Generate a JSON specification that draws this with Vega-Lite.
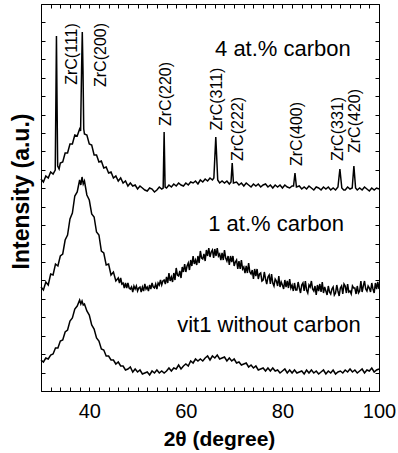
{
  "$schema": "https://vega.github.io/schema/vega-lite/v6.json",
  "autosize": {"type": "none"},
  "width": 338,
  "height": 387,
  "padding": {"left": 41, "top": 4, "right": 19, "bottom": 62},
  "background": "white",
  "config": {
    "view": {"stroke": "black", "strokeWidth": 1},
    "font": "Liberation Sans",
    "axis": {"tickColor": "black", "tickWidth": 1, "labelColor": "black", "titleColor": "black", "grid": false, "domain": false, "labelFont": "Liberation Sans", "titleFont": "Liberation Sans", "labelFlush": false, "labelOverlap": false}
  },
  "datasets": {
    "curves": [
      {"s":"a","x":30,"y":31},{"s":"a","x":30.5,"y":29},{"s":"a","x":31,"y":33},{"s":"a","x":31.5,"y":32},{"s":"a","x":32,"y":36},{"s":"a","x":32.5,"y":37},{"s":"a","x":33,"y":43},{"s":"a","x":33.5,"y":43},{"s":"a","x":34,"y":50},{"s":"a","x":34.5,"y":51},{"s":"a","x":35,"y":59},{"s":"a","x":35.5,"y":61},{"s":"a","x":36,"y":70},{"s":"a","x":36.5,"y":73},{"s":"a","x":37,"y":82},{"s":"a","x":37.5,"y":85},{"s":"a","x":38,"y":91},{"s":"a","x":38.25,"y":87},{"s":"a","x":38.5,"y":90},{"s":"a","x":38.75,"y":86},{"s":"a","x":39,"y":87},{"s":"a","x":39.5,"y":80},{"s":"a","x":40,"y":76},{"s":"a","x":40.5,"y":66},{"s":"a","x":41,"y":62},{"s":"a","x":41.5,"y":53},{"s":"a","x":42,"y":50},{"s":"a","x":42.5,"y":42},{"s":"a","x":43,"y":41},{"s":"a","x":43.5,"y":35},{"s":"a","x":44,"y":35},{"s":"a","x":44.5,"y":31},{"s":"a","x":45,"y":31},{"s":"a","x":45.5,"y":27},
      {"s":"a","x":46,"y":29},{"s":"a","x":46.5,"y":25},{"s":"a","x":47,"y":25},{"s":"a","x":47.5,"y":21},{"s":"a","x":48,"y":22},{"s":"a","x":48.5,"y":24},{"s":"a","x":49,"y":19},{"s":"a","x":49.5,"y":22},{"s":"a","x":50,"y":19},{"s":"a","x":50.5,"y":21},{"s":"a","x":51,"y":17},{"s":"a","x":51.5,"y":18},{"s":"a","x":52,"y":19},{"s":"a","x":52.5,"y":16},{"s":"a","x":53,"y":20},{"s":"a","x":53.5,"y":18},
      {"s":"a","x":54,"y":21},{"s":"a","x":54.5,"y":18},{"s":"a","x":55,"y":20},{"s":"a","x":55.5,"y":18},{"s":"a","x":56,"y":20},{"s":"a","x":56.5,"y":23},{"s":"a","x":57,"y":20},{"s":"a","x":57.5,"y":23},{"s":"a","x":58,"y":22},{"s":"a","x":58.5,"y":26},{"s":"a","x":59,"y":22},{"s":"a","x":59.5,"y":25},{"s":"a","x":60,"y":27},{"s":"a","x":60.5,"y":25},{"s":"a","x":61,"y":30},{"s":"a","x":61.5,"y":28},
      {"s":"a","x":62,"y":32},{"s":"a","x":62.5,"y":30},{"s":"a","x":63,"y":32},{"s":"a","x":63.5,"y":30},{"s":"a","x":64,"y":33},{"s":"a","x":64.5,"y":35},{"s":"a","x":65,"y":31},{"s":"a","x":65.5,"y":35},{"s":"a","x":66,"y":33},{"s":"a","x":66.5,"y":36},{"s":"a","x":67,"y":32},{"s":"a","x":67.5,"y":33},{"s":"a","x":68,"y":34},{"s":"a","x":68.5,"y":30},{"s":"a","x":69,"y":33},{"s":"a","x":69.5,"y":30},
      {"s":"a","x":70,"y":32},{"s":"a","x":70.5,"y":28},{"s":"a","x":71,"y":29},{"s":"a","x":71.5,"y":26},{"s":"a","x":72,"y":27},{"s":"a","x":72.5,"y":28},{"s":"a","x":73,"y":24},{"s":"a","x":73.5,"y":26},{"s":"a","x":74,"y":23},{"s":"a","x":74.5,"y":25},{"s":"a","x":75,"y":21},{"s":"a","x":75.5,"y":22},{"s":"a","x":76,"y":23},{"s":"a","x":76.5,"y":20},{"s":"a","x":77,"y":23},{"s":"a","x":77.5,"y":20},
      {"s":"a","x":78,"y":23},{"s":"a","x":78.5,"y":20},{"s":"a","x":79,"y":21},{"s":"a","x":79.5,"y":18},{"s":"a","x":80,"y":20},{"s":"a","x":80.5,"y":22},{"s":"a","x":81,"y":18},{"s":"a","x":81.5,"y":21},{"s":"a","x":82,"y":18},{"s":"a","x":82.5,"y":21},{"s":"a","x":83,"y":18},{"s":"a","x":83.5,"y":19},{"s":"a","x":84,"y":20},{"s":"a","x":84.5,"y":17},{"s":"a","x":85,"y":21},{"s":"a","x":85.5,"y":18},
      {"s":"a","x":86,"y":21},{"s":"a","x":86.5,"y":18},{"s":"a","x":87,"y":20},{"s":"a","x":87.5,"y":17},{"s":"a","x":88,"y":19},{"s":"a","x":88.5,"y":21},{"s":"a","x":89,"y":17},{"s":"a","x":89.5,"y":20},{"s":"a","x":90,"y":18},{"s":"a","x":90.5,"y":21},{"s":"a","x":91,"y":17},{"s":"a","x":91.5,"y":19},{"s":"a","x":92,"y":20},{"s":"a","x":92.5,"y":18},{"s":"a","x":93,"y":21},{"s":"a","x":93.5,"y":19},
      {"s":"a","x":94,"y":22},{"s":"a","x":94.5,"y":19},{"s":"a","x":95,"y":21},{"s":"a","x":95.5,"y":18},{"s":"a","x":96,"y":20},{"s":"a","x":96.5,"y":22},{"s":"a","x":97,"y":18},{"s":"a","x":97.5,"y":21},{"s":"a","x":98,"y":20},{"s":"a","x":98.5,"y":23},{"s":"a","x":99,"y":19},{"s":"a","x":99.5,"y":21},{"s":"a","x":100,"y":22},
      {"s":"b","x":30,"y":104},{"s":"b","x":30.5,"y":101},{"s":"b","x":31,"y":109},{"s":"b","x":31.5,"y":106},{"s":"b","x":32,"y":117},{"s":"b","x":32.5,"y":116},{"s":"b","x":33,"y":127},{"s":"b","x":33.5,"y":125},{"s":"b","x":34,"y":135},{"s":"b","x":34.5,"y":137},{"s":"b","x":35,"y":151},{"s":"b","x":35.5,"y":156},{"s":"b","x":36,"y":172},{"s":"b","x":36.5,"y":178},{"s":"b","x":37,"y":195},{"s":"b","x":37.5,"y":199},{"s":"b","x":38,"y":211},{"s":"b","x":38.25,"y":206},{"s":"b","x":38.5,"y":214},{"s":"b","x":38.75,"y":207},{"s":"b","x":39,"y":210},{"s":"b","x":39.5,"y":196},{"s":"b","x":40,"y":191},{"s":"b","x":40.5,"y":177},{"s":"b","x":41,"y":174},{"s":"b","x":41.5,"y":159},{"s":"b","x":42,"y":156},{"s":"b","x":42.5,"y":140},{"s":"b","x":43,"y":138},{"s":"b","x":43.5,"y":126},{"s":"b","x":44,"y":127},{"s":"b","x":44.5,"y":116},{"s":"b","x":45,"y":119},{"s":"b","x":45.5,"y":110},
      {"s":"b","x":46,"y":113},{"s":"b","x":46.25,"y":108},{"s":"b","x":46.5,"y":113},{"s":"b","x":46.75,"y":107},
      {"s":"b","x":47,"y":108},{"s":"b","x":47.25,"y":103},{"s":"b","x":47.5,"y":108},{"s":"b","x":47.75,"y":103},
      {"s":"b","x":48,"y":108},{"s":"b","x":48.25,"y":103},{"s":"b","x":48.5,"y":102},{"s":"b","x":48.75,"y":104},
      {"s":"b","x":49,"y":99},{"s":"b","x":49.25,"y":105},{"s":"b","x":49.5,"y":102},{"s":"b","x":49.75,"y":105},
      {"s":"b","x":50,"y":100},{"s":"b","x":50.25,"y":103},{"s":"b","x":50.5,"y":104},{"s":"b","x":50.75,"y":99},
      {"s":"b","x":51,"y":104},{"s":"b","x":51.25,"y":100},{"s":"b","x":51.5,"y":107},{"s":"b","x":51.75,"y":102},
      {"s":"b","x":52,"y":104},{"s":"b","x":52.25,"y":100},{"s":"b","x":52.5,"y":106},{"s":"b","x":52.75,"y":102},
      {"s":"b","x":53,"y":108},{"s":"b","x":53.25,"y":104},{"s":"b","x":53.5,"y":103},{"s":"b","x":53.75,"y":107},
      {"s":"b","x":54,"y":102},{"s":"b","x":54.25,"y":108},{"s":"b","x":54.5,"y":106},{"s":"b","x":54.75,"y":111},
      {"s":"b","x":55,"y":106},{"s":"b","x":55.25,"y":110},{"s":"b","x":55.5,"y":111},{"s":"b","x":55.75,"y":107},
      {"s":"b","x":56,"y":114},{"s":"b","x":56.25,"y":108},{"s":"b","x":56.5,"y":118},{"s":"b","x":56.75,"y":110},
      {"s":"b","x":57,"y":114},{"s":"b","x":57.25,"y":109},{"s":"b","x":57.5,"y":118},{"s":"b","x":57.75,"y":111},
      {"s":"b","x":58,"y":123},{"s":"b","x":58.25,"y":116},{"s":"b","x":58.5,"y":115},{"s":"b","x":58.75,"y":120},
      {"s":"b","x":59,"y":113},{"s":"b","x":59.25,"y":124},{"s":"b","x":59.5,"y":119},{"s":"b","x":59.75,"y":127},
      {"s":"b","x":60,"y":119},{"s":"b","x":60.25,"y":125},{"s":"b","x":60.5,"y":128},{"s":"b","x":60.75,"y":121},
      {"s":"b","x":61,"y":131},{"s":"b","x":61.25,"y":125},{"s":"b","x":61.5,"y":135},{"s":"b","x":61.75,"y":127},
      {"s":"b","x":62,"y":131},{"s":"b","x":62.25,"y":126},{"s":"b","x":62.5,"y":135},{"s":"b","x":62.75,"y":128},
      {"s":"b","x":63,"y":140},{"s":"b","x":63.25,"y":133},{"s":"b","x":63.5,"y":132},{"s":"b","x":63.75,"y":137},
      {"s":"b","x":64,"y":130},{"s":"b","x":64.25,"y":141},{"s":"b","x":64.5,"y":135},{"s":"b","x":64.75,"y":143},
      {"s":"b","x":65,"y":134},{"s":"b","x":65.25,"y":139},{"s":"b","x":65.5,"y":141},{"s":"b","x":65.75,"y":133},
      {"s":"b","x":66,"y":142},{"s":"b","x":66.25,"y":135},{"s":"b","x":66.5,"y":143},{"s":"b","x":66.75,"y":135},
      {"s":"b","x":67,"y":137},{"s":"b","x":67.25,"y":131},{"s":"b","x":67.5,"y":138},{"s":"b","x":67.75,"y":131},
      {"s":"b","x":68,"y":141},{"s":"b","x":68.25,"y":133},{"s":"b","x":68.5,"y":130},{"s":"b","x":68.75,"y":135},
      {"s":"b","x":69,"y":126},{"s":"b","x":69.25,"y":135},{"s":"b","x":69.5,"y":129},{"s":"b","x":69.75,"y":135},
      {"s":"b","x":70,"y":125},{"s":"b","x":70.25,"y":129},{"s":"b","x":70.5,"y":131},{"s":"b","x":70.75,"y":122},
      {"s":"b","x":71,"y":130},{"s":"b","x":71.25,"y":122},{"s":"b","x":71.5,"y":131},{"s":"b","x":71.75,"y":122},
      {"s":"b","x":72,"y":124},{"s":"b","x":72.25,"y":118},{"s":"b","x":72.5,"y":125},{"s":"b","x":72.75,"y":118},
      {"s":"b","x":73,"y":128},{"s":"b","x":73.25,"y":119},{"s":"b","x":73.5,"y":117},{"s":"b","x":73.75,"y":121},
      {"s":"b","x":74,"y":112},{"s":"b","x":74.25,"y":122},{"s":"b","x":74.5,"y":115},{"s":"b","x":74.75,"y":122},
      {"s":"b","x":75,"y":112},{"s":"b","x":75.25,"y":117},{"s":"b","x":75.5,"y":118},{"s":"b","x":75.75,"y":110},
      {"s":"b","x":76,"y":111},{"s":"b","x":76.25,"y":119},{"s":"b","x":76.5,"y":112},{"s":"b","x":76.75,"y":107},
      {"s":"b","x":77,"y":114},{"s":"b","x":77.25,"y":116},{"s":"b","x":77.5,"y":107},{"s":"b","x":77.75,"y":117},
      {"s":"b","x":78,"y":108},{"s":"b","x":78.25,"y":105},{"s":"b","x":78.5,"y":112},{"s":"b","x":78.75,"y":110},
      {"s":"b","x":79,"y":105},{"s":"b","x":79.25,"y":115},{"s":"b","x":79.5,"y":104},{"s":"b","x":79.75,"y":109},
      {"s":"b","x":80,"y":106},{"s":"b","x":80.25,"y":102},{"s":"b","x":80.5,"y":111},{"s":"b","x":80.75,"y":104},
      {"s":"b","x":81,"y":110},{"s":"b","x":81.25,"y":103},{"s":"b","x":81.5,"y":112},{"s":"b","x":81.75,"y":103},
      {"s":"b","x":82,"y":106},{"s":"b","x":82.25,"y":100},{"s":"b","x":82.5,"y":108},{"s":"b","x":82.75,"y":101},
      {"s":"b","x":83,"y":101},{"s":"b","x":83.25,"y":109},{"s":"b","x":83.5,"y":103},{"s":"b","x":83.75,"y":98},
      {"s":"b","x":84,"y":106},{"s":"b","x":84.25,"y":108},{"s":"b","x":84.5,"y":100},{"s":"b","x":84.75,"y":110},
      {"s":"b","x":85,"y":101},{"s":"b","x":85.25,"y":98},{"s":"b","x":85.5,"y":106},{"s":"b","x":85.75,"y":104},
      {"s":"b","x":86,"y":110},{"s":"b","x":86.25,"y":102},{"s":"b","x":86.5,"y":100},{"s":"b","x":86.75,"y":105},
      {"s":"b","x":87,"y":96},{"s":"b","x":87.25,"y":106},{"s":"b","x":87.5,"y":100},{"s":"b","x":87.75,"y":107},
      {"s":"b","x":88,"y":99},{"s":"b","x":88.25,"y":109},{"s":"b","x":88.5,"y":98},{"s":"b","x":88.75,"y":104},
      {"s":"b","x":89,"y":100},{"s":"b","x":89.25,"y":96},{"s":"b","x":89.5,"y":105},{"s":"b","x":89.75,"y":99},
      {"s":"b","x":90,"y":97},{"s":"b","x":90.25,"y":102},{"s":"b","x":90.5,"y":104},{"s":"b","x":90.75,"y":96},
      {"s":"b","x":91,"y":98},{"s":"b","x":91.25,"y":106},{"s":"b","x":91.5,"y":100},{"s":"b","x":91.75,"y":95},
      {"s":"b","x":92,"y":103},{"s":"b","x":92.25,"y":105},{"s":"b","x":92.5,"y":97},{"s":"b","x":92.75,"y":107},
      {"s":"b","x":93,"y":105},{"s":"b","x":93.25,"y":98},{"s":"b","x":93.5,"y":107},{"s":"b","x":93.75,"y":99},
      {"s":"b","x":94,"y":100},{"s":"b","x":94.25,"y":97},{"s":"b","x":94.5,"y":105},{"s":"b","x":94.75,"y":103},
      {"s":"b","x":95,"y":103},{"s":"b","x":95.25,"y":97},{"s":"b","x":95.5,"y":105},{"s":"b","x":95.75,"y":98},
      {"s":"b","x":96,"y":100},{"s":"b","x":96.25,"y":110},{"s":"b","x":96.5,"y":99},{"s":"b","x":96.75,"y":105},
      {"s":"b","x":97,"y":110},{"s":"b","x":97.25,"y":102},{"s":"b","x":97.5,"y":100},{"s":"b","x":97.75,"y":105},
      {"s":"b","x":98,"y":103},{"s":"b","x":98.25,"y":99},{"s":"b","x":98.5,"y":108},{"s":"b","x":98.75,"y":102},
      {"s":"b","x":99,"y":98},{"s":"b","x":99.25,"y":108},{"s":"b","x":99.5,"y":102},{"s":"b","x":99.75,"y":109},
      {"s":"b","x":100,"y":102},
      {"s":"c","x":30,"y":212},{"s":"c","x":30.5,"y":209},{"s":"c","x":31,"y":215},{"s":"c","x":31.5,"y":213},{"s":"c","x":32,"y":219},{"s":"c","x":32.5,"y":217},{"s":"c","x":32.95,"y":221},{"s":"c","x":33.1,"y":300},{"s":"c","x":33.2,"y":355},{"s":"c","x":33.3,"y":300},{"s":"c","x":33.45,"y":225},{"s":"c","x":33.75,"y":222},{"s":"c","x":34,"y":228},{"s":"c","x":34.5,"y":229},{"s":"c","x":35,"y":238},{"s":"c","x":35.5,"y":238},{"s":"c","x":36,"y":247},{"s":"c","x":36.5,"y":247},{"s":"c","x":37,"y":256},{"s":"c","x":37.5,"y":255},{"s":"c","x":38,"y":262},{"s":"c","x":38.2,"y":260},{"s":"c","x":38.4,"y":320},{"s":"c","x":38.55,"y":359},{"s":"c","x":38.7,"y":320},{"s":"c","x":38.85,"y":262},{"s":"c","x":39,"y":257},{"s":"c","x":39.5,"y":256},{"s":"c","x":40,"y":247},{"s":"c","x":40.5,"y":246},{"s":"c","x":41,"y":236},{"s":"c","x":41.5,"y":236},{"s":"c","x":42,"y":229},{"s":"c","x":42.5,"y":230},{"s":"c","x":43,"y":223},{"s":"c","x":43.5,"y":224},{"s":"c","x":44,"y":218},{"s":"c","x":44.5,"y":219},{"s":"c","x":45,"y":213},{"s":"c","x":45.5,"y":215},{"s":"c","x":46,"y":210},{"s":"c","x":46.5,"y":213},{"s":"c","x":47,"y":208},{"s":"c","x":47.5,"y":210},{"s":"c","x":48,"y":205},{"s":"c","x":48.5,"y":208},{"s":"c","x":49,"y":205},{"s":"c","x":49.5,"y":206},{"s":"c","x":50,"y":202},{"s":"c","x":50.5,"y":205},{"s":"c","x":51,"y":203},{"s":"c","x":51.5,"y":201},{"s":"c","x":52,"y":200},{"s":"c","x":52.5,"y":203},{"s":"c","x":53,"y":202},{"s":"c","x":53.5,"y":199},{"s":"c","x":54,"y":201},{"s":"c","x":54.5,"y":204},{"s":"c","x":55,"y":202},{"s":"c","x":55.3,"y":203},{"s":"c","x":55.5,"y":259},{"s":"c","x":55.7,"y":204},{"s":"c","x":56,"y":203},{"s":"c","x":56.5,"y":206},{"s":"c","x":57,"y":204},{"s":"c","x":57.5,"y":207},{"s":"c","x":58,"y":205},{"s":"c","x":58.5,"y":208},{"s":"c","x":59,"y":206},{"s":"c","x":59.5,"y":205},{"s":"c","x":60,"y":208},{"s":"c","x":60.5,"y":206},{"s":"c","x":61,"y":209},{"s":"c","x":61.5,"y":208},{"s":"c","x":62,"y":210},{"s":"c","x":62.5,"y":207},{"s":"c","x":63,"y":211},{"s":"c","x":63.5,"y":209},{"s":"c","x":64,"y":212},{"s":"c","x":64.5,"y":210},{"s":"c","x":65,"y":213},{"s":"c","x":65.5,"y":211},{"s":"c","x":65.8,"y":213},{"s":"c","x":66.2,"y":254},{"s":"c","x":66.6,"y":211},{"s":"c","x":67,"y":208},{"s":"c","x":67.5,"y":210},{"s":"c","x":68,"y":208},{"s":"c","x":68.5,"y":210},{"s":"c","x":69,"y":207},{"s":"c","x":69.35,"y":209},{"s":"c","x":69.6,"y":228},{"s":"c","x":69.85,"y":208},{"s":"c","x":70.5,"y":209},{"s":"c","x":71,"y":206},{"s":"c","x":71.5,"y":208},{"s":"c","x":72,"y":205},{"s":"c","x":72.5,"y":208},{"s":"c","x":73,"y":206},{"s":"c","x":73.5,"y":204},{"s":"c","x":74,"y":207},{"s":"c","x":74.5,"y":205},{"s":"c","x":75,"y":207},{"s":"c","x":75.5,"y":204},{"s":"c","x":76,"y":206},{"s":"c","x":76.5,"y":207},{"s":"c","x":77,"y":204},{"s":"c","x":77.5,"y":206},{"s":"c","x":78,"y":203},{"s":"c","x":78.5,"y":206},{"s":"c","x":79,"y":204},{"s":"c","x":79.5,"y":206},{"s":"c","x":80,"y":203},{"s":"c","x":80.5,"y":206},{"s":"c","x":81,"y":204},{"s":"c","x":81.5,"y":203},{"s":"c","x":82,"y":205},{"s":"c","x":82.3,"y":205},{"s":"c","x":82.6,"y":218},{"s":"c","x":82.9,"y":204},{"s":"c","x":83.5,"y":205},{"s":"c","x":84,"y":202},{"s":"c","x":84.5,"y":204},{"s":"c","x":85,"y":202},{"s":"c","x":85.5,"y":205},{"s":"c","x":86,"y":203},{"s":"c","x":86.5,"y":201},{"s":"c","x":87,"y":204},{"s":"c","x":87.5,"y":203},{"s":"c","x":88,"y":201},{"s":"c","x":88.5,"y":204},{"s":"c","x":89,"y":202},{"s":"c","x":89.5,"y":204},{"s":"c","x":90,"y":201},{"s":"c","x":90.5,"y":203},{"s":"c","x":91,"y":201},{"s":"c","x":91.5,"y":204},{"s":"c","x":91.9,"y":222},{"s":"c","x":92.3,"y":203},{"s":"c","x":92.7,"y":201},{"s":"c","x":93,"y":201},{"s":"c","x":93.5,"y":204},{"s":"c","x":94,"y":202},{"s":"c","x":94.45,"y":203},{"s":"c","x":94.8,"y":225},{"s":"c","x":95.15,"y":203},{"s":"c","x":95.5,"y":201},{"s":"c","x":96,"y":203},{"s":"c","x":96.5,"y":201},{"s":"c","x":97,"y":204},{"s":"c","x":97.5,"y":202},{"s":"c","x":98,"y":200},{"s":"c","x":98.5,"y":203},{"s":"c","x":99,"y":201},{"s":"c","x":99.5,"y":203},{"s":"c","x":100,"y":202}
    ],
    "peaks": [
      {"t":"ZrC(111)","x":36.4,"y":337},
      {"t":"ZrC(200)","x":42.4,"y":336},
      {"t":"ZrC(220)","x":55.9,"y":297},
      {"t":"ZrC(311)","x":66.4,"y":292},
      {"t":"ZrC(222)","x":70.8,"y":262},
      {"t":"ZrC(400)","x":83.0,"y":257},
      {"t":"ZrC(331)","x":91.5,"y":262},
      {"t":"ZrC(420)","x":95.1,"y":270}
    ],
    "samples": [
      {"t":"4 at.% carbon","x":80.1,"y":342},
      {"t":"1 at.% carbon","x":78.7,"y":167},
      {"t":"vit1 without carbon","x":77.2,"y":66}
    ]
  },
  "resolve": {"axis": {"x": "independent", "y": "independent"}},
  "layer": [
    {
      "data": {"name": "curves"},
      "mark": {"type": "line", "color": "black", "strokeWidth": 1.5},
      "encoding": {
        "x": {"field": "x", "type": "quantitative", "scale": {"domain": [30, 100], "nice": false, "zero": false},
          "axis": {"orient": "bottom", "offset": -4, "tickSize": 4, "values": [30,32,34,36,38,40,42,44,46,48,50,52,54,56,58,60,62,64,66,68,70,72,74,76,78,80,82,84,86,88,90,92,94,96,98,100], "labelExpr": "datum.value == 40 || datum.value == 60 || datum.value == 80 || datum.value == 100 ? datum.label : ''", "labelFontSize": 20, "labelPadding": 10, "title": "2θ (degree)", "titleFontSize": 21, "titleFontWeight": "bold", "titlePadding": 7, "titleX": 178}},
        "y": {"field": "y", "type": "quantitative", "scale": {"domain": [0, 387], "nice": false, "zero": false},
          "axis": {"orient": "left", "offset": -4, "tickSize": 4, "values": [0, 18.43, 36.86, 55.29, 73.71, 92.14, 110.57, 129, 147.43, 165.86, 184.29, 202.71, 221.14, 239.57, 258, 276.43, 294.86, 313.29, 331.71, 350.14, 368.57, 387], "labels": false, "title": "Intensity (a.u.)", "titleFontSize": 23, "titleFontWeight": "bold", "titlePadding": 7, "titleY": 187}},
        "detail": {"field": "s"}
      }
    },
    {
      "data": {"name": "peaks"},
      "mark": {"type": "text", "angle": 270, "align": "center", "baseline": "middle", "fontSize": 16, "font": "Liberation Sans", "color": "black"},
      "encoding": {
        "x": {"field": "x", "type": "quantitative",
          "axis": {"orient": "top", "offset": -4, "tickSize": 4, "values": [30,32,34,36,38,40,42,44,46,48,50,52,54,56,58,60,62,64,66,68,70,72,74,76,78,80,82,84,86,88,90,92,94,96,98,100], "labels": false, "title": null}},
        "y": {"field": "y", "type": "quantitative",
          "axis": {"orient": "right", "offset": -4, "tickSize": 4, "values": [0, 18.43, 36.86, 55.29, 73.71, 92.14, 110.57, 129, 147.43, 165.86, 184.29, 202.71, 221.14, 239.57, 258, 276.43, 294.86, 313.29, 331.71, 350.14, 368.57, 387], "labels": false, "title": null}},
        "text": {"field": "t"}
      }
    },
    {
      "data": {"name": "samples"},
      "mark": {"type": "text", "align": "center", "baseline": "middle", "fontSize": 22, "font": "Liberation Sans", "color": "black"},
      "encoding": {
        "x": {"field": "x", "type": "quantitative", "axis": null},
        "y": {"field": "y", "type": "quantitative", "axis": null},
        "text": {"field": "t"}
      }
    }
  ]
}
